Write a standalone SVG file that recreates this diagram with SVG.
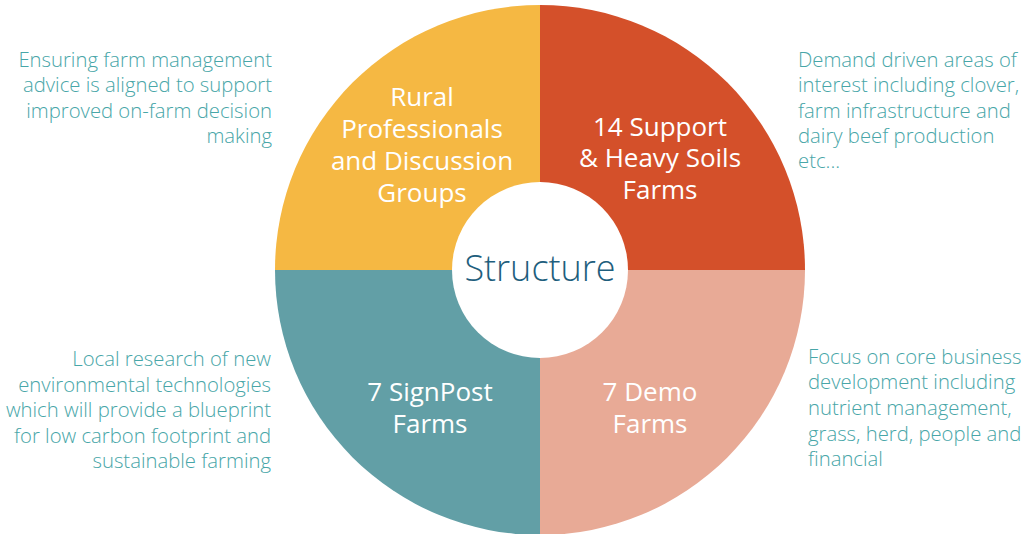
<svg xmlns="http://www.w3.org/2000/svg" width="1036" height="534" viewBox="0 0 1036 534">
<style>
.desc{font-family:"Open Sans","Liberation Sans",sans-serif;font-size:20.3px;font-weight:300;fill:#48A6A8}
.lbl{font-family:"Open Sans","Liberation Sans",sans-serif;font-size:26px;font-weight:500;fill:#ffffff;text-anchor:middle}
.ctr{font-family:"Open Sans","Liberation Sans",sans-serif;font-size:36px;font-weight:300;fill:#1E5E7D;text-anchor:middle}
</style>
<rect width="1036" height="534" fill="#ffffff"/>
<g id="node-rural">
<path d="M540,270 L275,270 A265,265 0 0 1 540,5 Z" fill="#F5B843"/>
<text class="lbl"><tspan x="422" y="106">Rural</tspan><tspan x="422" y="138">Professionals</tspan><tspan x="422" y="170">and Discussion</tspan><tspan x="422" y="202">Groups</tspan></text>
</g>
<g id="node-support">
<path d="M540,270 L540,5 A265,265 0 0 1 805,270 Z" fill="#D4502A"/>
<text class="lbl"><tspan x="660" y="136">14 Support</tspan><tspan x="660" y="167">&amp; Heavy Soils</tspan><tspan x="660" y="199">Farms</tspan></text>
</g>
<g id="node-demo">
<path d="M540,270 L805,270 A265,265 0 0 1 540,535 Z" fill="#E8AA96"/>
<text class="lbl"><tspan x="650" y="401">7 Demo</tspan><tspan x="650" y="433">Farms</tspan></text>
</g>
<g id="node-signpost">
<path d="M540,270 L540,535 A265,265 0 0 1 275,270 Z" fill="#629FA6"/>
<text class="lbl"><tspan x="430" y="401">7 SignPost</tspan><tspan x="430" y="433">Farms</tspan></text>
</g>
<g id="node-structure">
<circle cx="540" cy="270" r="88" fill="#ffffff"/>
<text class="ctr" x="540" y="281">Structure</text>
</g>
<g id="connectors"></g>
<g id="desc-top-left">
<text class="desc" text-anchor="end"><tspan x="272" y="67">Ensuring farm management</tspan><tspan x="272" y="92">advice is aligned to support</tspan><tspan x="272" y="118">improved on-farm decision</tspan><tspan x="272" y="143">making</tspan></text>
</g>
<g id="desc-top-right">
<text class="desc"><tspan x="798" y="67">Demand driven areas of</tspan><tspan x="798" y="92">interest including clover,</tspan><tspan x="798" y="118">farm infrastructure and</tspan><tspan x="798" y="143">dairy beef production</tspan><tspan x="798" y="168">etc...</tspan></text>
</g>
<g id="desc-bottom-left">
<text class="desc" text-anchor="end"><tspan x="271" y="366">Local research of new</tspan><tspan x="271" y="392">environmental technologies</tspan><tspan x="271" y="417">which will provide a blueprint</tspan><tspan x="271" y="443">for low carbon footprint and</tspan><tspan x="271" y="468">sustainable farming</tspan></text>
</g>
<g id="desc-bottom-right">
<text class="desc"><tspan x="808" y="364">Focus on core business</tspan><tspan x="808" y="389">development including</tspan><tspan x="808" y="415">nutrient management,</tspan><tspan x="808" y="441">grass, herd, people and</tspan><tspan x="808" y="466">financial</tspan></text>
</g>
</svg>
